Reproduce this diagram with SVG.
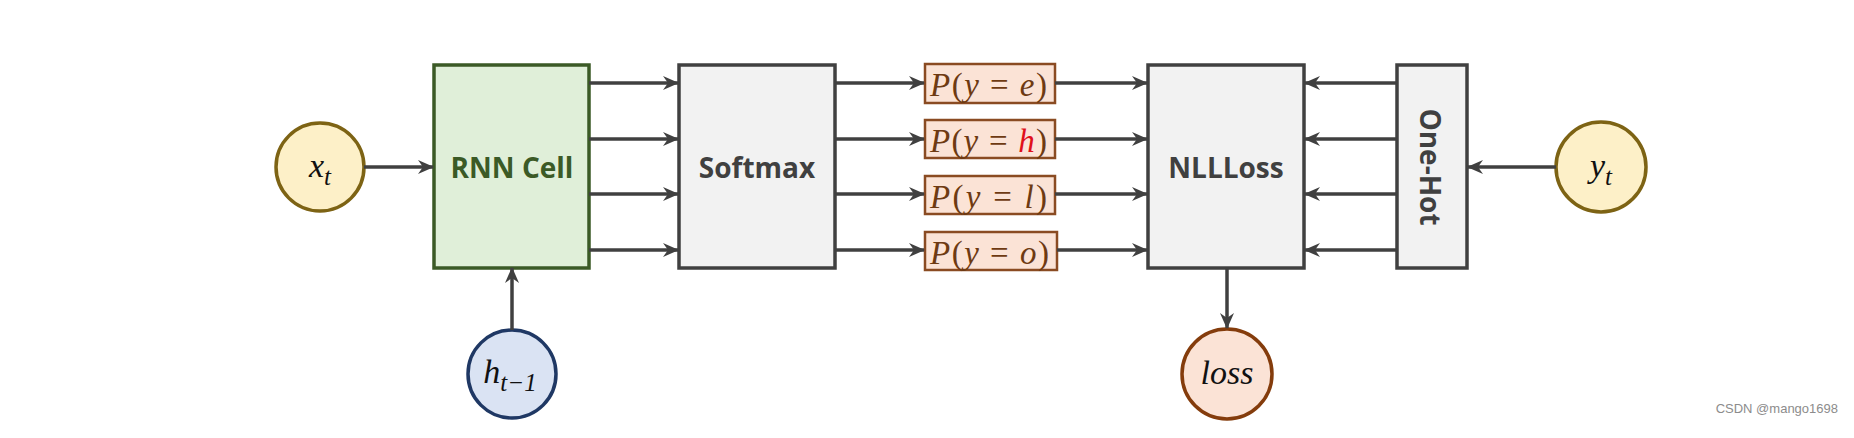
<svg xmlns="http://www.w3.org/2000/svg" width="1854" height="438" viewBox="0 0 1854 438">
<defs>
<marker id="ah" viewBox="0 0 16 14" refX="15" refY="7" markerWidth="16" markerHeight="14" markerUnits="userSpaceOnUse" orient="auto">
<path d="M0,0 L16,7 L0,14 L5,7 z" fill="#404040"/>
</marker>
<style>
.gbox{fill:#f2f2f2;stroke:#404040;stroke-width:3.5}
.lbl{font-family:"Open Sans","Liberation Sans",sans-serif;font-weight:bold;font-size:28px;fill:#404040;text-anchor:middle;dominant-baseline:central}
.pbox{fill:#fbe3d6;stroke:#8a4b22;stroke-width:2.5}
.ptxt{font-family:"Liberation Serif","DejaVu Serif",serif;font-size:33px;fill:#6e3a12}
.it{font-style:italic}
.math{font-family:"Liberation Serif","DejaVu Serif",serif;font-style:italic;fill:#111;text-anchor:middle}
.conn line{stroke:#404040;stroke-width:3.5;marker-end:url(#ah)}
</style>
</defs>
<rect width="1854" height="438" fill="#ffffff"/>

<g id="x_t">
<circle cx="320" cy="167" r="44" fill="#fdf0c8" stroke="#7d6314" stroke-width="3.5"/>
<text class="math" x="320" y="177" font-size="34">x<tspan font-size="25" dy="8">t</tspan></text>
</g>

<g id="rnn_cell">
<rect x="434" y="65" width="155" height="203" fill="#e0efd9" stroke="#3b5a26" stroke-width="3.5"/>
<text class="lbl" x="512" y="167" style="fill:#3b5a26">RNN Cell</text>
</g>

<g id="h_prev">
<circle cx="512" cy="374" r="44" fill="#dae3f3" stroke="#1f3864" stroke-width="3.5"/>
<text class="math" x="510" y="383" font-size="34">h<tspan font-size="25" dy="8">t−1</tspan></text>
</g>

<g id="softmax">
<rect class="gbox" x="679" y="65" width="156" height="203"/>
<text class="lbl" x="757" y="167">Softmax</text>
</g>

<g id="p_e">
<rect class="pbox" x="925" y="64" width="130" height="39"/>
<text class="ptxt" x="930" y="96" textLength="117" lengthAdjust="spacing"><tspan class="it">P</tspan>(<tspan class="it">y</tspan> = <tspan class="it">e</tspan>)</text>
</g>
<g id="p_h">
<rect class="pbox" x="925" y="120" width="130" height="38"/>
<text class="ptxt" x="930" y="152" textLength="117" lengthAdjust="spacing"><tspan class="it">P</tspan>(<tspan class="it">y</tspan> = <tspan class="it" fill="#e0101a">h</tspan>)</text>
</g>
<g id="p_l">
<rect class="pbox" x="925" y="176" width="130" height="38"/>
<text class="ptxt" x="930" y="208" textLength="117" lengthAdjust="spacing"><tspan class="it">P</tspan>(<tspan class="it">y</tspan> = <tspan class="it">l</tspan>)</text>
</g>
<g id="p_o">
<rect class="pbox" x="925" y="232" width="132" height="38"/>
<text class="ptxt" x="930" y="264" textLength="119" lengthAdjust="spacing"><tspan class="it">P</tspan>(<tspan class="it">y</tspan> = <tspan class="it">o</tspan>)</text>
</g>

<g id="nllloss">
<rect class="gbox" x="1148" y="65" width="156" height="203"/>
<text class="lbl" x="1226" y="167">NLLLoss</text>
</g>

<g id="one_hot">
<rect class="gbox" x="1397" y="65" width="70" height="203"/>
<text class="lbl" x="0" y="0" transform="translate(1431 167) rotate(90)">One-Hot</text>
</g>

<g id="y_t">
<circle cx="1601" cy="167" r="45" fill="#fdf0c8" stroke="#7d6314" stroke-width="3.5"/>
<text class="math" x="1601" y="177" font-size="34">y<tspan font-size="25" dy="8">t</tspan></text>
</g>

<g id="loss">
<circle cx="1227" cy="374" r="45" fill="#fbe3d6" stroke="#843c0c" stroke-width="3.5"/>
<text class="math" x="1227" y="384" font-size="34">loss</text>
</g>

<g id="connectors" class="conn">
<line x1="364" y1="167" x2="433" y2="167"/>
<line x1="512" y1="330" x2="512" y2="268"/>
<line x1="589" y1="83" x2="678" y2="83"/>
<line x1="589" y1="139" x2="678" y2="139"/>
<line x1="589" y1="194" x2="678" y2="194"/>
<line x1="589" y1="250" x2="678" y2="250"/>
<line x1="835" y1="83" x2="924" y2="83"/>
<line x1="835" y1="139" x2="924" y2="139"/>
<line x1="835" y1="194" x2="924" y2="194"/>
<line x1="835" y1="250" x2="924" y2="250"/>
<line x1="1055" y1="83" x2="1147" y2="83"/>
<line x1="1055" y1="139" x2="1147" y2="139"/>
<line x1="1055" y1="194" x2="1147" y2="194"/>
<line x1="1057" y1="250" x2="1147" y2="250"/>
<line x1="1396" y1="83" x2="1305" y2="83"/>
<line x1="1396" y1="139" x2="1305" y2="139"/>
<line x1="1396" y1="194" x2="1305" y2="194"/>
<line x1="1396" y1="250" x2="1305" y2="250"/>
<line x1="1556" y1="167" x2="1468" y2="167"/>
<line x1="1227" y1="268" x2="1227" y2="328"/>
</g>

<text x="1838" y="413" font-family="Liberation Sans, sans-serif" font-size="13" fill="#8c8c8c" text-anchor="end">CSDN @mango1698</text>
</svg>
